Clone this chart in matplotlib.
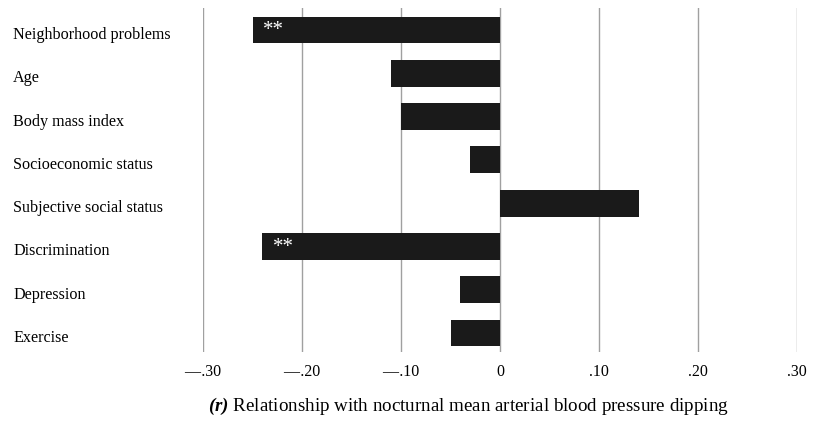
import matplotlib.pyplot as plt
import matplotlib.transforms as mtransforms

# predictor names and correlations with MAP dipping
labels = ["Neighborhood problems", "Age", "Body mass index", "Socioeconomic status",
          "Subjective social status", "Discrimination", "Depression", "Exercise"]
r_values = [-0.25, -0.11, -0.10, -0.03, 0.14, -0.24, -0.04, -0.05]
signif = ["**", "", "", "", "", "**", "", ""]
xticks = [-0.30, -0.20, -0.10, 0, 0.10, 0.20, 0.30]
xticklabels = ["\u2014\u200a.30", "\u2014\u200a.20", "\u2014\u200a.10", "0", ".10", ".20", ".30"]

plt.rcParams['font.family'] = ['Liberation Serif', 'DejaVu Serif']
plt.rcParams['mathtext.fontset'] = 'custom'
plt.rcParams['mathtext.rm'] = 'Liberation Serif'
plt.rcParams['mathtext.bfit'] = 'Liberation Serif:bold:italic'

fig = plt.figure(figsize=(8.14, 4.22), dpi=100)
ax = fig.add_axes([203 / 814, 1 - 352 / 422, (797 - 203) / 814, (352 - 8) / 422])

y = list(range(len(labels)))
ax.barh(y, r_values, height=0.62, color="#1a1a1a", zorder=3)
for yi, v, s in zip(y, r_values, signif):
    if s:
        ax.text(v + 0.011, yi + 0.02, s, color="white", fontsize=15, va="center", ha="left",
                zorder=4)

ax.set_xlim(-0.3, 0.3)
ax.set_ylim(7.44, -0.51)
ax.set_xticks(xticks)
ax.set_xticklabels(xticklabels, fontsize=11.5)
ax.set_yticks(y)
ax.set_yticklabels(labels, fontsize=11.6, ha="left")
ax.tick_params(axis="y", length=0, pad=136.8)
ax.tick_params(axis="x", length=0, pad=9)
# labels sit a little below the bar centres in the original
shift = mtransforms.ScaledTranslation(0, -3 / 100, fig.dpi_scale_trans)
for lab in ax.get_yticklabels():
    lab.set_transform(lab.get_transform() + shift)
ax.grid(axis="x", color="#a0a0a0", lw=1, zorder=0)
for sp in ax.spines.values():
    sp.set_visible(False)

fig.text(208 / 814, 1 - 406 / 422,
         r"$\mathbfit{(r)}$ Relationship with nocturnal mean arterial blood pressure dipping",
         fontsize=13.7, ha="left", va="center")

fig.savefig("out.png", dpi=100)
